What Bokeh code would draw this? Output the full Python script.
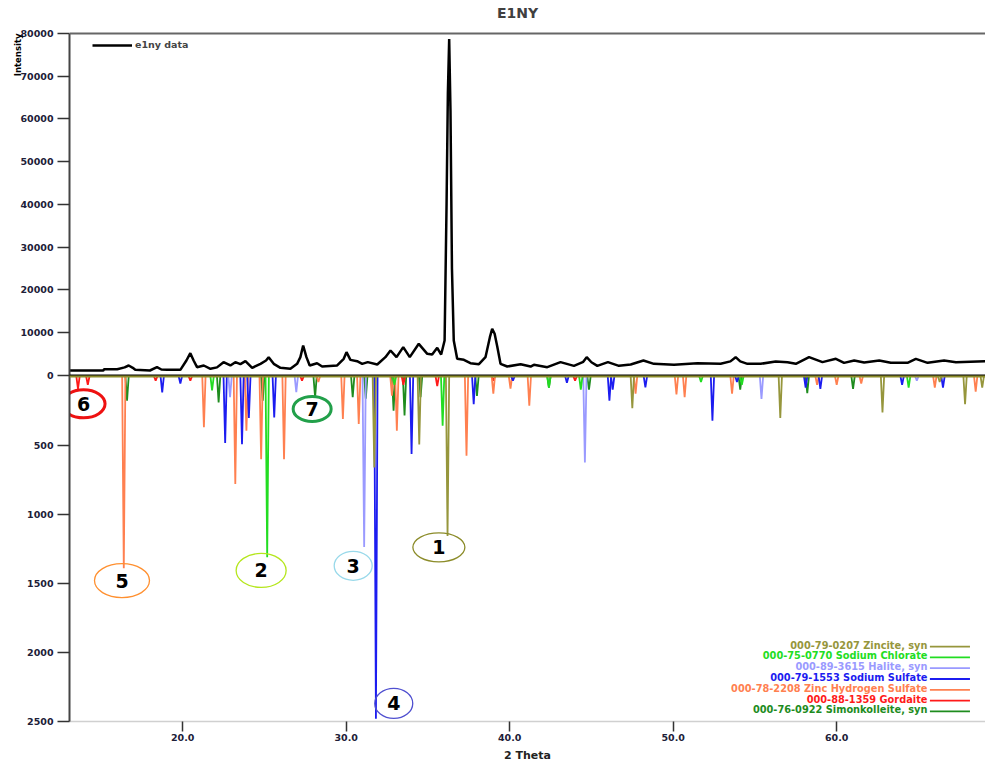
from bokeh.plotting import figure
from bokeh.models import (Range1d, FixedTicker, Legend, LegendItem, Span, Title,
                          NumeralTickFormatter)
from bokeh.core.properties import value
from bokeh.embed import file_html
from bokeh.resources import INLINE

FONT = "DejaVu Sans"
TICK_TEXT = "#202038"

# ---- measured diffraction pattern (2 theta, counts) ----
two_theta = [13.08, 15.15, 15.2, 16.0, 16.45, 16.7, 16.95, 17.1, 18.0, 18.43, 18.7, 19.05,
             19.86, 20.23, 20.47, 20.67, 20.88, 21.29, 21.7, 22.1, 22.5, 22.92, 23.22, 23.53,
             23.84, 24.25, 24.76, 25.1, 25.26, 25.57, 25.98, 26.59, 27.0, 27.2, 27.37, 27.57,
             27.77, 28.22, 28.53, 29.45, 29.85, 30.02, 30.26, 30.67, 30.98, 31.32, 31.9, 32.4,
             32.71, 33.08, 33.49, 33.89, 34.44, 34.96, 35.26, 35.57, 35.81, 36.02, 36.14, 36.22,
             36.3, 36.38, 36.47, 36.58, 36.79, 37.2, 37.6, 38.12, 38.52, 38.79, 38.93, 39.08,
             39.24, 39.44, 39.85, 40.67, 41.28, 41.48, 42.3, 43.11, 43.93, 44.5, 44.71, 45.0,
             45.36, 46.01, 46.68, 47.4, 48.18, 48.82, 50.05, 51.48, 52.9, 53.5, 53.82, 54.1,
             54.54, 55.35, 56.27, 56.99, 57.5, 58.31, 59.13, 59.95, 60.45, 61.07, 61.68, 62.6,
             63.31, 64.33, 64.84, 65.56, 66.57, 67.29, 69.1]
counts = [1170, 1170, 1480, 1480, 1900, 2340, 1800, 1330, 1170, 1950, 1400, 1330,
          1330, 3500, 5220, 3500, 1950, 2340, 1560, 1900, 3120, 2340, 3120, 2650,
          3350, 1790, 2730, 3500, 4290, 2730, 1790, 1560, 2730, 4290, 7020, 4290,
          2340, 2880, 2100, 2340, 3900, 5460, 3660, 3350, 2730, 3120, 2570, 4290,
          5850, 4290, 6630, 4290, 7410, 5070, 4900, 6470, 4900, 8190, 40000, 66000,
          78700, 62000, 25000, 8190, 3900, 3660, 2880, 2650, 4290, 8970, 10920, 9750,
          6800, 2730, 2100, 2650, 2100, 2500, 1950, 3120, 2260, 3200, 4290, 3100,
          2260, 3120, 2260, 2570, 3510, 2730, 2500, 2880, 2730, 3300, 4290, 3300,
          2730, 2730, 3270, 3120, 2730, 4290, 3120, 3900, 2960, 3510, 3040, 3510,
          2960, 2960, 3900, 2960, 3510, 3120, 3350]

# ---- reference patterns: peak position (2 theta) and intensity ----
zincite_pos = [31.72, 34.47, 36.2, 47.5, 56.55, 62.8, 66.3, 67.85, 68.9]
zincite_int = [660, 493, 1155, 230, 300, 260, 40, 200, 80]

chlorate_pos = [21.8, 25.17, 32.95, 35.9, 42.4, 44.35, 51.7, 54.2, 64.4]
chlorate_int = [100, 1310, 60, 356, 80, 95, 40, 60, 80]

halite_pos = [22.9, 26.95, 31.1, 44.6, 55.4, 64.9]
halite_int = [150, 114, 1236, 623, 162, 30]

sulfate_pos = [18.75, 19.86, 22.6, 23.63, 24.05, 25.6, 31.82, 34.0, 37.8, 40.2, 43.5,
               46.1, 46.3, 48.3, 52.4, 53.9, 58.1, 59.0, 64.0, 66.5]
sulfate_int = [115, 50, 482, 490, 300, 296, 2480, 562, 200, 30, 45,
               175, 95, 78, 320, 40, 80, 90, 60, 80]

znhs_pos = [16.4, 21.3, 23.22, 23.9, 24.8, 26.2, 28.3, 29.8, 30.77, 32.8, 33.1, 37.36,
            39.0, 40.05, 41.2, 47.7, 50.2, 50.7, 53.6, 58.8, 60.0, 61.5, 66.0, 68.5]
znhs_int = [1390, 368, 778, 392, 600, 600, 40, 308, 344, 138, 392, 574,
            125, 88, 211, 125, 130, 150, 125, 60, 60, 50, 80, 110]

gordaite_pos = [13.6, 14.2, 18.35, 20.47, 27.3, 33.5, 35.57, 39.0, 44.0]
gordaite_int = [90, 60, 30, 30, 30, 60, 70, 30, 30]

simon_pos = [16.6, 22.2, 24.9, 28.1, 30.4, 31.2, 32.9, 33.57, 34.55, 38.0, 42.4, 44.85,
             54.1, 58.2, 61.0]
simon_int = [175, 187, 175, 150, 150, 160, 247, 283, 150, 140, 80, 95, 95, 120, 90]

phase_labels = ["000-79-0207 Zincite, syn",
                "000-75-0770 Sodium Chlorate",
                "000-89-3615 Halite, syn",
                "000-79-1553 Sodium Sulfate",
                "000-78-2208 Zinc Hydrogen Sulfate",
                "000-88-1359 Gordaite",
                "000-76-0922 Simonkolleite, syn"]
phase_colors = ["#96963C", "#22DD22", "#9A9AFF", "#1C1CF0", "#FF8050", "#FF1A1A", "#1E8C1E"]
phase_data = [(zincite_pos, zincite_int), (chlorate_pos, chlorate_int),
              (halite_pos, halite_int), (sulfate_pos, sulfate_int),
              (znhs_pos, znhs_int), (gordaite_pos, gordaite_int),
              (simon_pos, simon_int)]

# numbered markers on selected reference peaks
mark_text = ["1", "2", "3", "4", "5", "6", "7"]
mark_x = [35.67, 24.8, 30.43, 32.91, 16.29, 13.94, 27.92]
mark_y = [1238, 1405, 1372, 2369, 1479, 198, 235]
mark_w = [52, 50, 38, 38, 55, 43, 38]
mark_h = [29, 34, 29, 30, 34, 28, 25]
mark_color = ["#8C8C2A", "#B5E61D", "#99D9EA", "#5050D0", "#FF9030", "#EE1111", "#22A04A"]
mark_lw = [1.3, 1.3, 1.3, 1.3, 1.3, 3, 3]

main_ticks = list(range(0, 80001, 10000))
ref_ticks = [500, 1000, 1500, 2000, 2500]

# Upper part of the frame shows counts, lower part the reference intensities
# (growing downward) on a second range sharing the same frame; the band above
# 80000 counts holds the heading.
main_range = Range1d(-80936, 87719)
ref_range = Range1d(start=2500, end=-2725)
TITLE_X, TITLE_Y = 40.48, 84750


def ref_to_main(v):
    f = (v - ref_range.start) / (ref_range.end - ref_range.start)
    return main_range.start + f * (main_range.end - main_range.start)


p = figure(width=985, height=765, x_range=Range1d(13.08, 69.1), y_range=main_range,
           output_backend="svg", toolbar_location=None, title=None,
           min_border_left=69, min_border_right=0, min_border_top=0,
           min_border_bottom=44)
p.extra_y_ranges = {"ref": ref_range}
p.xgrid.visible = False
p.ygrid.visible = False
p.outline_line_color = None

# single left axis carrying both scales
ya = p.yaxis[0]
ref_tick_pos = [int(round(ref_to_main(v))) for v in ref_ticks]
ya.ticker = FixedTicker(ticks=main_ticks + ref_tick_pos)
ya.formatter = NumeralTickFormatter(format="0")
ya.major_label_overrides = {t: str(v) for t, v in zip(ref_tick_pos, ref_ticks)}
ya.bounds = (main_range.start, 80000)
ya.major_tick_out = 12
ya.major_tick_in = 0
ya.minor_tick_out = 0
ya.minor_tick_in = 0
ya.major_tick_line_color = "#333333"
ya.major_tick_line_width = 1.5
ya.axis_line_color = "#444444"
ya.axis_line_width = 2
ya.major_label_standoff = 4
ya.major_label_text_font = FONT
ya.major_label_text_font_style = "bold"
ya.major_label_text_font_size = "9.5px"
ya.major_label_text_color = TICK_TEXT

xa = p.xaxis[0]
xa.ticker = FixedTicker(ticks=[20, 30, 40, 50, 60])
xa.formatter = NumeralTickFormatter(format="0.0")
xa.major_tick_out = 10
xa.major_tick_in = 0
xa.minor_tick_out = 0
xa.minor_tick_in = 0
xa.major_tick_line_color = "#333333"
xa.major_tick_line_width = 1.5
xa.axis_line_color = "#d0d0d0"
xa.axis_line_width = 1.5
xa.major_label_standoff = 2
xa.major_label_text_font = FONT
xa.major_label_text_font_style = "bold"
xa.major_label_text_font_size = "9.5px"
xa.major_label_text_color = TICK_TEXT

p.add_layout(Title(text="2 Theta", align="center", offset=-10, standoff=6,
                   text_font=FONT, text_font_style="bold", text_font_size="11px",
                   text_color="#222222"), "below")
p.add_layout(Title(text="Intensity", align="right", offset=33, standoff=-10,
                   text_font=FONT, text_font_style="bold", text_font_size="8.5px",
                   text_color="black"), "left")

# heading
p.text(x=[TITLE_X], y=[TITLE_Y], text=["E1NY"], text_align="center",
       text_baseline="middle", text_font=value(FONT), text_font_style="bold",
       text_font_size="14px", text_color="#404040")

# frame top border and the two zero lines
p.add_layout(Span(location=80000, dimension="width", line_color="#666666", line_width=2))
p.add_layout(Span(location=0, dimension="width", line_color="black", line_width=2))

# reference sticks, drawn downward from the zero line
half_w = 0.1
for (pos, inten), color in reversed(list(zip(phase_data, phase_colors))):
    xs = [[q - half_w, q, q + half_w] for q in pos]
    ys = [[0, v, 0] for v in inten]
    p.multi_line(xs=xs, ys=ys, line_color=color, line_width=1.8, y_range_name="ref")

p.add_layout(Span(location=0, dimension="width", line_color="#8C8C2A", line_width=2,
                  y_range_name="ref"))

# measured pattern
r_data = p.line(two_theta, counts, line_color="black", line_width=2.5)

legend = Legend(items=[LegendItem(label="e1ny data", renderers=[r_data])],
                location=(23, 671), border_line_color=None, background_fill_alpha=0,
                padding=0, margin=0, glyph_width=40, glyph_height=10, label_height=10,
                label_standoff=3, label_text_font=FONT, label_text_font_style="bold",
                label_text_font_size="9.5px")
p.add_layout(legend)

# phase legend: coloured label followed by a line sample
leg_x = 65.55
leg_y0 = 1946
leg_dy = 78.3
leg_y = [leg_y0 + i * leg_dy for i in range(len(phase_labels))]
p.text(x=[leg_x] * len(phase_labels), y=leg_y, text=phase_labels,
       text_color=phase_colors, text_align="right", text_baseline="middle",
       text_font=value(FONT), text_font_style="bold", text_font_size="9.8px",
       y_range_name="ref")
p.segment(x0=[leg_x + 0.15] * len(phase_labels), y0=[y + 11 for y in leg_y],
          x1=[leg_x + 2.6] * len(phase_labels), y1=[y + 11 for y in leg_y],
          line_color=phase_colors, line_width=1.8, y_range_name="ref")

# numbered ellipses
p.ellipse(x=mark_x, y=mark_y, width=mark_w, height=mark_h, width_units="screen",
          height_units="screen", fill_color=None, line_color=mark_color,
          line_width=mark_lw, y_range_name="ref")
p.text(x=mark_x, y=mark_y, text=mark_text, text_align="center",
       text_baseline="middle", text_font=value(FONT), text_font_style="bold",
       text_font_size="19px", text_color="black", y_range_name="ref")

open("out.html", "w").write(file_html(p, INLINE, title="E1NY"))
